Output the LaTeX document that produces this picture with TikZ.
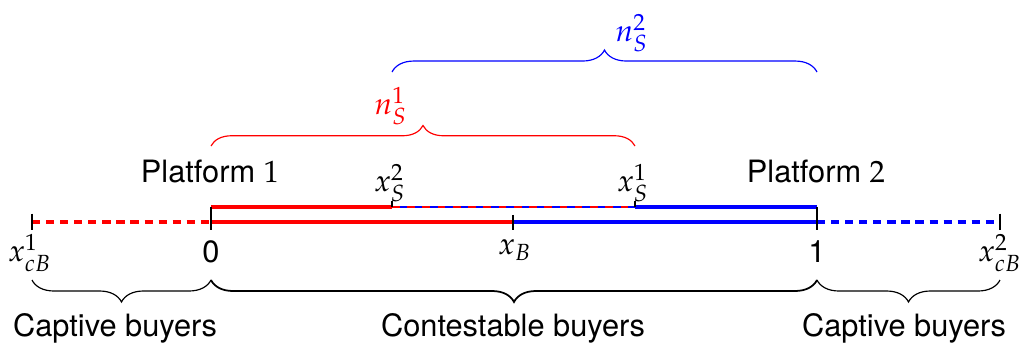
\documentclass[tikz,border=0pt]{standalone}
\usepackage{mathpazo}
\usepackage{fontspec}
\setsansfont{TeX Gyre Heros}
\usetikzlibrary{decorations.pathreplacing}

\definecolor{platred}{RGB}{255, 0, 0}
\definecolor{platblue}{RGB}{0, 0, 255}

\begin{document}
\begin{tikzpicture}[x=0.012cm, y=-0.012cm,
    txt/.style={font=\sffamily\fontsize{10.5}{12}\selectfont},
    mth/.style={font=\fontsize{10.5}{12}\selectfont},
    seg/.style={line width=1.2pt},
    dsh/.style={line width=1.2pt, dash pattern=on 2.8pt off 2pt},
    tick/.style={semithick, black},
    brc/.style={decorate, decoration={brace, amplitude=#1}}]
        \useasboundingbox (0,0) rectangle (1021,350);

        % points on the line
        \coordinate (cb1) at (32,222);
        \coordinate (zero) at (211,222);
        \coordinate (xb) at (513,222);
        \coordinate (one) at (817,222);
        \coordinate (cb2) at (1000,222);
        % upper (seller) line
        \coordinate (zeroU) at (211,207);
        \coordinate (xs2) at (392,207);
        \coordinate (xs1) at (635,207);
        \coordinate (oneU) at (817,207);

        % buyer line
        \draw[dsh, platred] (cb1) -- (zero);
        \draw[seg, platred] (zero) -- (xb);
        \draw[seg, platblue] (xb) -- (one);
        \draw[dsh, platblue] (one) -- (cb2);

        % seller line
        \draw[seg, platred] (zeroU) -- (xs2);
        \draw[line width=0.9pt, platred, dash pattern=on 2.6pt off 2.6pt] (xs2) -- (xs1);
        \draw[line width=0.9pt, platblue, dash pattern=on 2.6pt off 2.6pt, dash phase=2.6pt] (xs2) -- (xs1);
        \draw[seg, platblue] (xs1) -- (oneU);

        % ticks
        \foreach \p in {cb1, cb2} {
          \draw[tick] ([yshift=0.1cm]\p) -- ([yshift=-0.1cm]\p);
        }
        \draw[tick] (zeroU) -- ([yshift=-0.1cm]zero);
        \draw[tick] (oneU) -- ([yshift=-0.1cm]one);
        \draw[tick] ([yshift=0.085cm]xb) -- ([yshift=-0.1cm]xb);
        \foreach \p in {xs2, xs1} {
          \draw[tick] (\p) -- ([yshift=0.075cm]\p);
        }

        % tick labels
        \node[mth] (lcb1) at (30,253) {$x_{cB}^1$};
        \node[txt] (lzero) at (211,252) {0};
        \node[mth] (lxb) at (515,250) {$x_B$};
        \node[txt] (lone) at (817,252) {1};
        \node[mth] (lcb2) at (1000,253) {$x_{cB}^2$};
        \node[mth] (lxs2) at (390,183) {$x_S^2$};
        \node[mth] (lxs1) at (633,183) {$x_S^1$};
        \node[txt] (plat1) at (210,171) {Platform $1$};
        \node[txt] (plat2) at (816,171) {Platform $2$};

        % seller braces
        \coordinate (r1) at (211,146);
        \coordinate (r2) at (635,146);
        \coordinate (b1) at (392,72);
        \coordinate (b2) at (817,72);
        \draw[brc=7pt, platred, thin] (r1) -- (r2);
        \draw[brc=7.5pt, platblue, thin] (b1) -- (b2);
        \node[mth, platred] (ns1) at (391,106) {$n_S^1$};
        \node[mth, platblue] (ns2) at (632,33) {$n_S^2$};

        % buyer braces
        \coordinate (c1) at (32,280);
        \coordinate (c2) at (211,280);
        \coordinate (c3) at (817,280);
        \coordinate (c4) at (1000,280);
        \draw[brc=7.5pt, decoration={mirror}, thin] (c1) -- (c2);
        \draw[brc=7.5pt, decoration={mirror}, semithick] (c2) -- (c3);
        \draw[brc=7.5pt, decoration={mirror}, thin] (c3) -- (c4);
        \node[txt] (cap1) at (115,328) {Captive buyers};
        \node[txt] (cont) at (513,328) {Contestable buyers};
        \node[txt] (cap2) at (904,328) {Captive buyers};
      \end{tikzpicture}
\end{document}
